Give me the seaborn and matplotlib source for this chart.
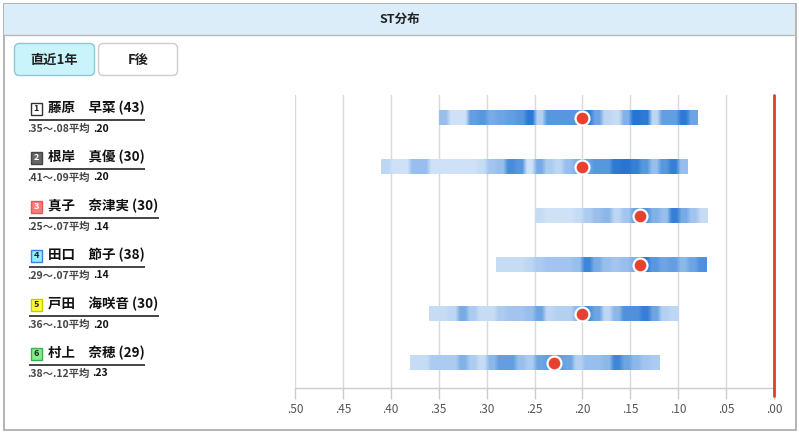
import matplotlib

matplotlib.use("Agg")
import matplotlib.pyplot as plt
import numpy as np
import pandas as pd
import seaborn as sns
from matplotlib.colors import LinearSegmentedColormap
from matplotlib.patches import FancyBboxPatch, Rectangle

# ---- data ----
lane_numbers = [1, 2, 3, 4, 5, 6]
racer_names = ["藤原　早菜", "根岸　真優", "真子　奈津実", "田口　節子", "戸田　海咲音", "村上　奈穂"]
race_counts = [43, 30, 30, 38, 30, 29]
st_slowest = [0.35, 0.41, 0.25, 0.29, 0.36, 0.38]
st_fastest = [0.08, 0.09, 0.07, 0.07, 0.10, 0.12]
st_average = [0.20, 0.20, 0.14, 0.14, 0.20, 0.23]

# relative density per 0.01 bin, from slowest to fastest
density_1 = [0.4, 0.1, 0.1, 0.65, 0.7, 0.55, 0.6, 0.65, 0.7, 0.95, 0.25, 0.7, 0.7, 0.7,
             0.7, 0.9, 0.6, 0.2, 0.15, 0.5, 1.0, 0.95, 0.2, 0.65, 0.65, 0.95, 0.6]
density_2 = [0.2, 0.1, 0.1, 0.4, 0.4, 0.1, 0.1, 0.1, 0.1, 0.1, 0.15, 0.35, 0.4, 0.8, 0.7, 0.1,
             0.55, 0.3, 0.2, 0.4, 0.5, 0.6, 0.7, 0.7, 0.95, 1.0, 0.9, 0.7, 0.4, 0.7, 0.9, 0.4]
density_3 = [0.15, 0.1, 0.1, 0.1, 0.15, 0.3, 0.4, 0.45, 0.2, 0.35, 0.6, 0.7, 0.5, 0.4,
             0.9, 0.55, 0.35, 0.15]
density_4 = [0.15, 0.15, 0.15, 0.2, 0.3, 0.35, 0.35, 0.35, 0.4, 0.85, 0.55, 0.4, 0.35, 0.4,
             0.5, 0.95, 0.7, 0.6, 0.65, 0.45, 0.6, 0.75]
density_5 = [0.15, 0.15, 0.2, 0.55, 0.3, 0.15, 0.15, 0.3, 0.35, 0.35, 0.4, 0.6, 0.2, 0.25,
             0.25, 0.45, 0.75, 0.6, 0.2, 0.45, 0.75, 0.75, 0.9, 0.6, 0.25, 0.2]
density_6 = [0.15, 0.15, 0.3, 0.3, 0.3, 0.5, 0.3, 0.15, 0.45, 0.65, 0.65, 0.4, 0.3, 0.6,
             0.65, 0.65, 0.6, 0.25, 0.4, 0.4, 0.45, 0.85, 0.6, 0.45, 0.35, 0.3]
densities = [density_1, density_2, density_3, density_4, density_5, density_6]

axis_ticks = [0.50, 0.45, 0.40, 0.35, 0.30, 0.25, 0.20, 0.15, 0.10, 0.05, 0.00]
tab_labels = ["直近1年", "F後"]

# ---- styles ----
lane_styles = {
    1: ("white", "#333333", "#222222"),
    2: ("#666666", "#444444", "white"),
    3: ("#ff7b7b", "#e05a5a", "white"),
    4: ("#8ef0ff", "#3f7fe0", "#222222"),
    5: ("#ffff33", "#c8c800", "#222222"),
    6: ("#7ef08e", "#3cb050", "#222222"),
}
strip_cmap = LinearSegmentedColormap.from_list("st", ["#e1edfa", "#a6c7ef", "#5f9ce0", "#2674d3"])

sns.set_style("white")
plt.rcParams["font.family"] = ["Noto Sans CJK JP", "DejaVu Sans"]

W, H = 799, 433
fig = plt.figure(figsize=(W / 100, H / 100), dpi=100)

# background/frame axes in pixel coordinates
bg = fig.add_axes([0, 0, 1, 1])
bg.set_xlim(0, W)
bg.set_ylim(H, 0)
bg.axis("off")

bg.add_patch(Rectangle((3.5, 3.5), 792, 426, facecolor="white", edgecolor="#a8a8a8", lw=1.2))
bg.add_patch(Rectangle((4, 4), 791, 31, facecolor="#dcedfa", edgecolor="none"))
bg.plot([4, 795], [35, 35], color="#b8b8b8", lw=1)
bg.text(W / 2, 19.5, "ST分布", ha="center", va="center", fontsize=9, fontweight="bold", color="#222222")

tab_boxes = [(14.5, 43.5, 80, 32, "#c9f4fb", "#8cc8d6"), (98.5, 43.5, 79, 32, "white", "#cccccc")]
for label, (x0, y0, w, h, fc, ec) in zip(tab_labels, tab_boxes):
    bg.add_patch(FancyBboxPatch((x0, y0), w, h, boxstyle="round,pad=0,rounding_size=5",
                                facecolor=fc, edgecolor=ec, lw=1))
    bg.text(x0 + w / 2, y0 + h / 2 + 0.5, label, ha="center", va="center",
            fontsize=9.5, fontweight="bold", color="#222222")

# chart axes
left_px, right_px, top_px, bottom_px = 295, 774, 95, 388
row_gap = 49
first_row_px = 118
ax = fig.add_axes([left_px / W, 1 - bottom_px / H, (right_px - left_px) / W, (bottom_px - top_px) / H])
ax.patch.set_alpha(0)
ax.set_xlim(0.5, 0.0)
ax.set_ylim((bottom_px - first_row_px) / row_gap, (top_px - first_row_px) / row_gap)

for x in axis_ticks:
    ax.axvline(x, color="#d9d9d9", lw=1, zorder=0)

half = 7.5 / row_gap
for i, dens in enumerate(densities):
    arr = np.repeat(np.array(dens, dtype=float), 2)[None, :]
    ax.imshow(arr, cmap=strip_cmap, vmin=0, vmax=1, aspect="auto", interpolation="bilinear",
              extent=[st_slowest[i], st_fastest[i], i + half, i - half], zorder=2)

points = pd.DataFrame({"st": st_average, "row": range(len(st_average))})
sns.scatterplot(data=points, x="st", y="row", ax=ax, color="#e8412f", s=100,
                edgecolor="white", linewidth=1.6, zorder=4, legend=False)

ax.axvline(0.0, ymin=-8 / (bottom_px - top_px), ymax=1, color="#e23c2c", lw=2, zorder=5, clip_on=False)

ax.set_xlim(0.5, 0.0)
ax.set_ylim((bottom_px - first_row_px) / row_gap, (top_px - first_row_px) / row_gap)
ax.set_xticks(axis_ticks)
ax.set_xticklabels([f"{t:.2f}"[1:] for t in axis_ticks])
ax.set_yticks([])
ax.set_xlabel("")
ax.set_ylabel("")
ax.tick_params(axis="x", length=8, width=1, color="#cccccc", labelsize=8.5, labelcolor="#555555", pad=3,
               bottom=True)
for side in ["top", "left", "right"]:
    ax.spines[side].set_visible(False)
ax.spines["bottom"].set_color("#cccccc")
ax.spines["bottom"].set_linewidth(1)

# left labels
fig.canvas.draw()
renderer = fig.canvas.get_renderer()
inv = bg.transData.inverted()
for i, num in enumerate(lane_numbers):
    yc = first_row_px + row_gap * i
    fc, ec, tc = lane_styles[num]
    bg.add_patch(Rectangle((30.5, yc - 15), 11.5, 11.5, facecolor=fc, edgecolor=ec, lw=1))
    bg.text(36.3, yc - 9.1, str(num), ha="center", va="center", fontsize=6.5, fontweight="bold", color=tc)
    name = bg.text(47.5, yc - 10, f"{racer_names[i]} ({race_counts[i]})", ha="left", va="center",
                   fontsize=9.7, fontweight="bold", color="#111111")
    bb = name.get_window_extent(renderer)
    x_right = inv.transform((bb.x1, bb.y0))[0]
    bg.plot([29, x_right + 1], [yc + 1.5, yc + 1.5], color="#111111", lw=1.1, solid_capstyle="butt")
    rng = f"{st_slowest[i]:.2f}"[1:] + "〜" + f"{st_fastest[i]:.2f}"[1:] + "平均"
    t1 = bg.text(27.5, yc + 10.5, rng, ha="left", va="center", fontsize=7.5, fontweight="bold", color="#444444")
    bg.annotate(f"{st_average[i]:.2f}"[1:], xy=(1, 0.5), xycoords=t1, xytext=(2, 0),
                textcoords="offset points", ha="left", va="center", fontsize=7.5,
                fontweight="bold", color="#111111")

fig.savefig("out.png", dpi=100)
